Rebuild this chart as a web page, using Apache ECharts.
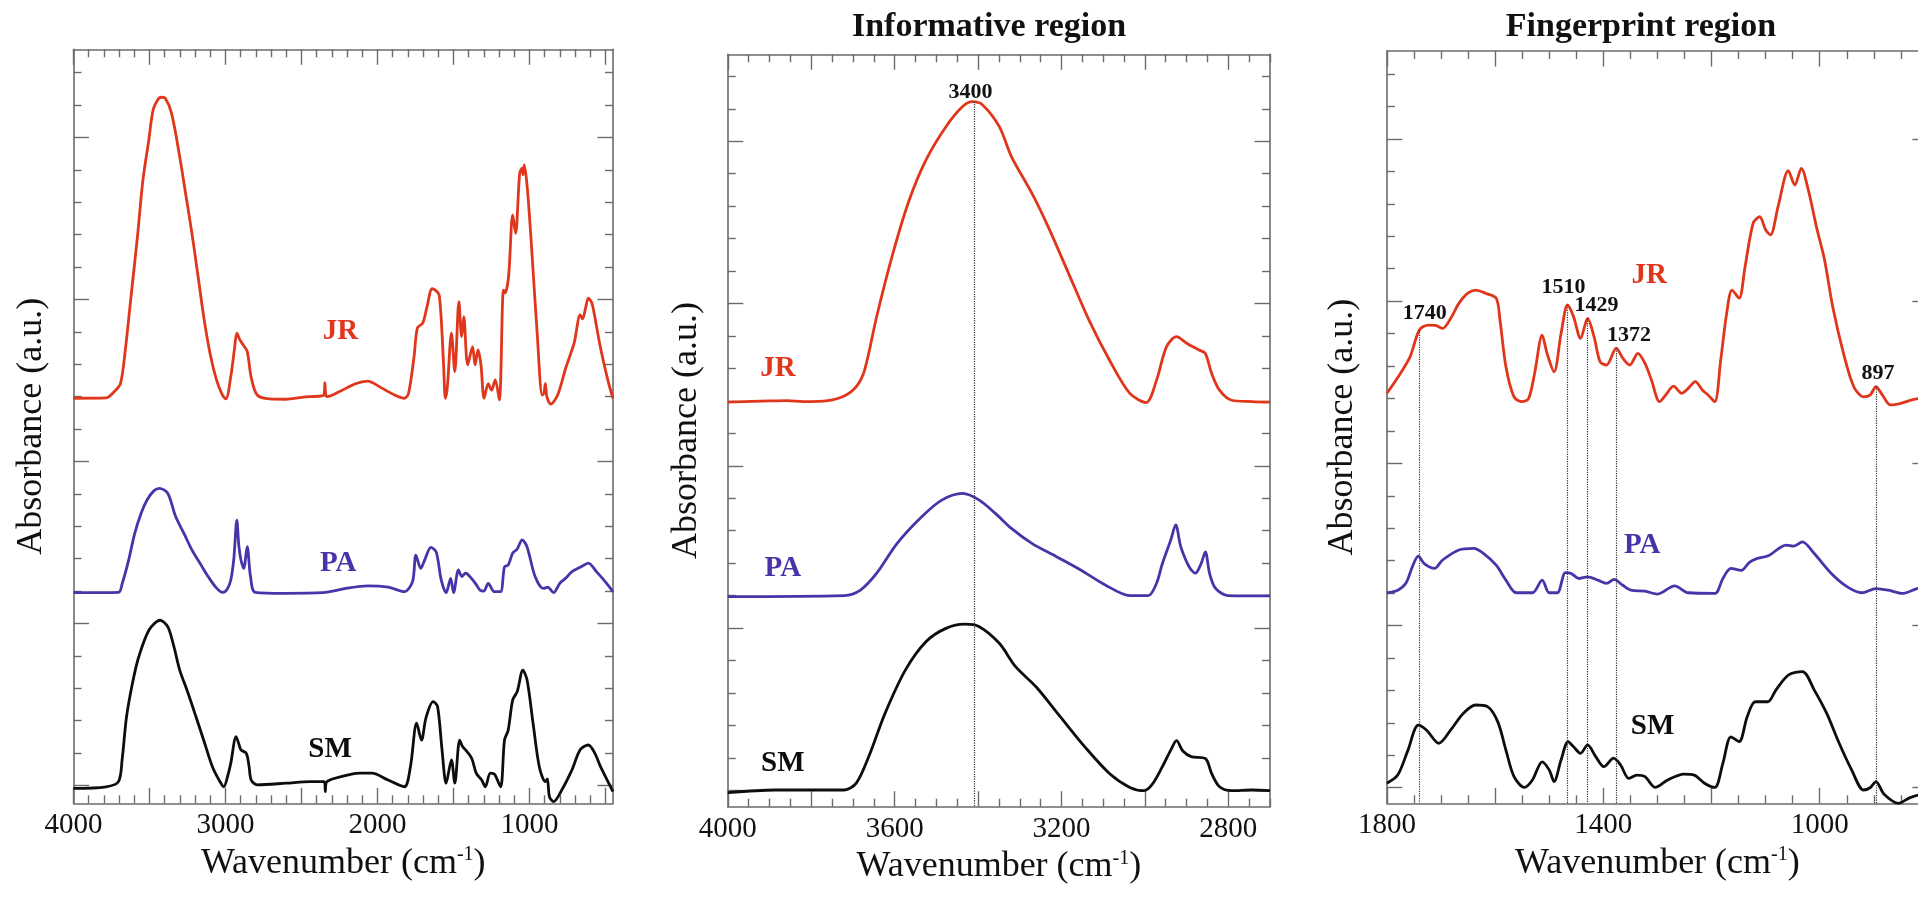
<!DOCTYPE html>
<html><head><meta charset="utf-8">
<script src="https://cdn.jsdelivr.net/npm/echarts@6/dist/echarts.min.js"></script>
<style>html,body{margin:0;padding:0;background:#fff}#c{width:1918px;height:902px}</style>
</head><body><div id="c"></div>
<script>
// ---------------- DATA (wavenumber cm-1, absorbance in arbitrary tick units) ----------------
// Full spectrum panel
const fullJR = [[4000,11.95],[3786,11.96],[3733,12.15],[3691,12.4],[3660,13.4],[3624,14.98],[3580,16.9],[3543,18.69],[3505,19.9],[3476,20.85],[3440,21.2],[3422,21.24],[3395,21.2],[3355,20.75],[3301,19.4],[3260,18.2],[3221,17.05],[3180,15.7],[3140,14.37],[3100,13.3],[3059,12.52],[3020,12.05],[2997,11.93],[2965,12.62],[2940,13.5],[2925,13.96],[2905,13.75],[2884,13.6],[2857,13.4],[2831,12.6],[2791,12.05],[2709,11.93],[2602,11.92],[2495,11.98],[2373,12.02],[2352,12.05],[2346,12.43],[2340,12.05],[2333,12.0],[2252,12.15],[2145,12.4],[2064,12.48],[1984,12.3],[1903,12.09],[1823,11.95],[1796,12.09],[1760,13.2],[1737,14.12],[1702,14.27],[1674,14.77],[1640,15.33],[1610,15.25],[1594,15.14],[1580,14.37],[1565,13.0],[1553,11.95],[1540,12.3],[1513,13.96],[1491,12.77],[1464,14.93],[1446,13.85],[1432,14.47],[1406,12.98],[1374,13.54],[1358,12.98],[1338,13.44],[1319,12.98],[1298,11.95],[1271,12.4],[1249,12.2],[1225,12.52],[1198,11.9],[1171,15.29],[1160,15.2],[1137,15.71],[1110,17.61],[1091,17.04],[1064,18.89],[1048,19.05],[1042,18.85],[1034,19.15],[1015,18.5],[989,16.84],[949,13.96],[916,12.05],[905,12.1],[895,12.4],[885,12.0],[860,11.77],[814,12.05],[760,12.9],[706,13.65],[666,14.52],[650,14.4],[630,14.75],[612,15.04],[590,14.9],[572,14.52],[532,13.5],[478,12.4],[450,11.95]];
const fullPA = [[4000,5.95],[3704,5.96],[3679,6.24],[3640,6.9],[3597,7.78],[3555,8.4],[3516,8.81],[3470,9.1],[3435,9.17],[3380,9.02],[3328,8.3],[3270,7.75],[3221,7.27],[3160,6.8],[3113,6.44],[3060,6.1],[3019,5.96],[2990,6.05],[2965,6.34],[2945,7.0],[2925,8.19],[2912,7.4],[2898,6.96],[2880,6.7],[2857,7.37],[2835,6.44],[2804,5.96],[2602,5.93],[2360,5.95],[2198,6.09],[2064,6.16],[1930,6.12],[1823,5.98],[1769,6.29],[1747,7.11],[1715,6.7],[1690,6.95],[1648,7.35],[1613,7.2],[1580,6.34],[1548,5.95],[1518,6.39],[1499,5.95],[1467,6.65],[1445,6.45],[1420,6.55],[1381,6.39],[1350,6.2],[1325,6.03],[1300,6.0],[1271,6.24],[1230,5.98],[1190,5.98],[1164,6.75],[1140,6.8],[1110,7.17],[1080,7.3],[1048,7.58],[1016,7.37],[962,6.44],[908,6.08],[880,6.12],[841,5.95],[800,6.24],[760,6.4],[720,6.6],[660,6.75],[612,6.86],[559,6.6],[492,6.24],[450,5.98]];
const fullSM = [[4000,-0.09],[3786,-0.04],[3704,0.12],[3680,0.8],[3651,2.12],[3610,3.2],[3570,3.98],[3503,4.8],[3430,5.1],[3380,4.9],[3340,4.3],[3301,3.56],[3250,2.9],[3194,2.12],[3140,1.35],[3086,0.58],[3040,0.15],[3011,-0.04],[2985,0.3],[2965,0.69],[2930,1.51],[2910,1.25],[2898,1.1],[2863,0.99],[2845,0.6],[2831,0.17],[2791,0.02],[2602,0.07],[2441,0.12],[2350,0.12],[2343,-0.19],[2336,0.1],[2198,0.32],[2118,0.38],[2037,0.38],[1930,0.17],[1823,-0.04],[1783,0.58],[1742,1.92],[1710,1.4],[1680,2.1],[1634,2.59],[1605,2.45],[1575,1.1],[1548,0.07],[1513,0.79],[1491,0.07],[1459,1.4],[1440,1.2],[1420,1.1],[1380,0.84],[1350,0.38],[1314,0.17],[1290,-0.04],[1257,0.38],[1230,0.35],[1190,-0.04],[1164,1.4],[1140,1.7],[1110,2.64],[1080,2.9],[1043,3.56],[1015,3.25],[976,1.92],[935,0.58],[895,0.12],[882,0.2],[868,-0.35],[841,-0.5],[787,-0.14],[720,0.48],[666,1.1],[612,1.25],[570,1.0],[532,0.58],[478,0.07],[450,-0.19]];
const fullTickLabels = [4000,3000,2000,1000];
const fullMajorTicks = [4000,3500,3000,2500,2000,1500,1000,500];
const fullTags = [[2244,14.0],[2258,6.86],[2312,1.1]];

// Informative region panel
const infoJR = [[4000,11.96],[3897,12.0],[3858,12.01],[3819,11.98],[3760,12.01],[3721,12.15],[3692,12.44],[3672,12.95],[3643,14.6],[3604,16.55],[3565,18.19],[3525,19.42],[3477,20.45],[3437,21.07],[3413,21.22],[3389,21.12],[3349,20.45],[3320,19.53],[3271,18.4],[3232,17.37],[3183,15.93],[3134,14.49],[3085,13.26],[3036,12.23],[2997,11.95],[2972,12.64],[2948,13.67],[2924,13.98],[2899,13.77],[2870,13.57],[2855,13.46],[2840,12.85],[2821,12.33],[2792,12.02],[2743,11.98],[2700,11.96]];
const infoPA = [[4000,5.97],[3721,6.0],[3682,6.17],[3643,6.69],[3594,7.61],[3535,8.43],[3486,8.95],[3437,9.15],[3398,8.95],[3359,8.54],[3320,8.07],[3271,7.61],[3212,7.2],[3154,6.79],[3095,6.33],[3036,6.0],[2992,6.0],[2972,6.38],[2958,6.99],[2938,7.71],[2926,8.18],[2914,7.51],[2894,6.89],[2879,6.69],[2865,6.99],[2855,7.35],[2845,6.69],[2831,6.23],[2801,6.0],[2700,5.99]];
const infoSM = [[4000,-0.07],[3887,0.01],[3721,0.01],[3692,0.22],[3662,1.04],[3623,2.37],[3574,3.71],[3525,4.58],[3477,4.99],[3432,5.12],[3398,5.05],[3349,4.53],[3310,3.81],[3261,3.19],[3203,2.27],[3144,1.34],[3085,0.52],[3036,0.09],[3002,-0.01],[2982,0.19],[2958,0.73],[2938,1.24],[2924,1.53],[2909,1.21],[2889,1.04],[2855,0.98],[2840,0.52],[2821,0.11],[2792,-0.01],[2743,0.01],[2700,-0.01]];
const infoTickLabels = [4000,3600,3200,2800];
const infoMajorTicks = [4000,3800,3600,3400,3200,3000,2800];
const infoTags = [[3880,13.0],[3868,6.84],[3868,0.83]];
const infoMarkWn = [3410];
const infoMarkTop = [21.22];
const infoMarkText = ['3400'];
const infoMarkLabelAt = [[3418,21.5]];

// Fingerprint region panel
const fingJR = [[1800,12.16],[1779,12.67],[1757,13.29],[1740,14.11],[1723,14.26],[1710,14.25],[1697,14.16],[1682,14.47],[1667,14.93],[1651,15.24],[1636,15.34],[1617,15.24],[1598,15.09],[1591,14.42],[1580,12.98],[1565,12.05],[1550,11.9],[1538,12.0],[1527,12.77],[1513,13.95],[1504,13.39],[1491,12.82],[1478,14.01],[1466,14.88],[1455,14.52],[1442,13.85],[1429,14.47],[1417,13.9],[1406,13.13],[1394,13.03],[1376,13.55],[1364,13.24],[1351,13.03],[1336,13.39],[1323,13.08],[1311,12.57],[1296,11.9],[1285,12.1],[1270,12.38],[1255,12.16],[1243,12.31],[1230,12.52],[1217,12.26],[1206,12.1],[1194,11.9],[1183,13.18],[1172,14.62],[1162,15.34],[1149,15.09],[1138,16.06],[1123,17.4],[1111,17.6],[1100,17.2],[1091,17.04],[1077,17.91],[1058,19.02],[1046,18.58],[1034,19.09],[1021,18.42],[1006,17.29],[991,16.27],[976,14.83],[956,13.39],[937,12.36],[919,12.05],[907,12.1],[896,12.36],[884,12.1],[869,11.8],[850,11.85],[831,11.95],[816,12.0],[800,12.04]];
const fingPA = [[1800,6.01],[1780,6.09],[1765,6.3],[1753,6.81],[1742,7.14],[1731,6.91],[1712,6.76],[1697,7.02],[1667,7.33],[1640,7.38],[1621,7.22],[1598,6.86],[1580,6.4],[1561,6.01],[1531,6.01],[1513,6.4],[1500,6.01],[1485,6.01],[1470,6.63],[1459,6.6],[1445,6.45],[1429,6.5],[1410,6.4],[1394,6.3],[1380,6.42],[1364,6.24],[1349,6.09],[1323,6.06],[1300,5.97],[1268,6.22],[1243,6.01],[1194,5.99],[1179,6.45],[1164,6.76],[1145,6.7],[1130,6.95],[1115,7.07],[1095,7.15],[1062,7.48],[1048,7.45],[1032,7.58],[1010,7.22],[979,6.61],[949,6.19],[922,6.01],[896,6.14],[873,6.09],[847,5.99],[820,6.14],[800,6.19]];
const fingSM = [[1800,0.14],[1780,0.39],[1761,1.16],[1742,1.93],[1727,1.78],[1704,1.37],[1682,1.78],[1659,2.29],[1636,2.55],[1614,2.5],[1595,2.03],[1580,1.16],[1565,0.34],[1546,0.01],[1531,0.24],[1513,0.8],[1500,0.55],[1491,0.19],[1478,0.86],[1465,1.42],[1455,1.26],[1442,1.06],[1429,1.32],[1414,0.96],[1399,0.65],[1381,0.91],[1368,0.7],[1353,0.29],[1338,0.39],[1323,0.34],[1304,0.01],[1281,0.24],[1251,0.42],[1232,0.39],[1213,0.14],[1194,0.01],[1179,0.75],[1164,1.57],[1149,1.42],[1134,2.19],[1119,2.65],[1096,2.65],[1081,3.01],[1058,3.47],[1032,3.58],[1010,3.01],[987,2.29],[964,1.37],[941,0.55],[919,-0.07],[907,0.0],[896,0.19],[881,-0.2],[854,-0.48],[835,-0.32],[816,-0.22],[800,-0.2]];
const fingTickLabels = [1800,1400,1000];
const fingMajorTicks = [1800,1600,1400,1200,1000,800];
const fingTags = [[1315,15.8],[1328,7.48],[1309,1.88]];
const fingMarkWn = [1740,1466,1429,1376,896];
const fingMarkTop = [14.11,14.88,14.47,13.55,12.36];
const fingMarkText = ['1740','1510','1429','1372','897'];
const fingMarkLabelAt = [[1730,14.62],[1473.6,15.43],[1412.6,14.88],[1352.5,13.95],[892.2,12.77]];

const seriesNames = ['JR','PA','SM'];
const yMajorTicks = [0,5,10,15,20];
const panelTitles = ['', 'Informative region', 'Fingerprint region'];

// ---------------- STYLE / LAYOUT ----------------
const FONT = '"Liberation Serif","Times New Roman",serif';
const COLORS = {JR:'#E0361C', PA:'#4A33A8', SM:'#0d0d0d'};
const FRAME = '#6b6b6b';

function minorList(from, to, step, majors){
  const out=[];
  for(let v=from; v>=to; v-=step){ if(!majors.includes(v)) out.push(v); }
  return out;
}
const yMinorTicks = [];
for(let v=1; v<=22; v++){ if(!yMajorTicks.includes(v)) yMinorTicks.push(v); }

const panels = [
  {grid:{left:73.5, top:49.3, width:539.5, height:754}, x:[450,4000], y:[-0.55,22.72],
   xMajor:fullMajorTicks, xMinor:minorList(4000,450,100,fullMajorTicks), xLabels:fullTickLabels,
   yNameGap:24, lines:[fullJR,fullPA,fullSM], tags:fullTags, marks:null, titleX:null},
  {grid:{left:727.8, top:54.3, width:542.2, height:752.4}, x:[2700,4000], y:[-0.505,22.68],
   xMajor:infoMajorTicks, xMinor:minorList(4000,2700,50,infoMajorTicks), xLabels:infoTickLabels,
   yNameGap:23, lines:[infoJR,infoPA,infoSM], tags:infoTags,
   marks:{wn:infoMarkWn, top:infoMarkTop, text:infoMarkText, at:infoMarkLabelAt}, titleX:989},
  {grid:{left:1386.9, top:51, width:541, height:752.3}, x:[800,1800], y:[-0.48,22.71],
   xMajor:fingMajorTicks, xMinor:minorList(1800,800,50,fingMajorTicks), xLabels:fingTickLabels,
   yNameGap:26, lines:[fingJR,fingPA,fingSM], tags:fingTags,
   marks:{wn:fingMarkWn, top:fingMarkTop, text:fingMarkText, at:fingMarkLabelAt}, titleX:1641}
];

const grid=[], xAxis=[], yAxis=[], series=[], graphic=[];
const plainLabel = {textBorderWidth:0, textShadowBlur:0, opacity:1};
panels.forEach((p,i)=>{
  grid.push(Object.assign({containLabel:false, outerBoundsMode:'none'}, p.grid));
  const ax = (dim, pos, ticks, len, showLine, labels, name, nameGap) => {
    const a = {
      type:'value', gridIndex:i, position:pos,
      min: dim==='x'? p.x[0] : p.y[0], max: dim==='x'? p.x[1] : p.y[1],
      inverse: dim==='x',
      splitLine:{show:false},
      axisLine:{show:showLine, onZero:false, lineStyle:{color:FRAME, width:1.6}},
      axisTick:{show:true, inside:true, length:len, customValues:ticks, lineStyle:{color:FRAME, width:1.4}},
      axisLabel: labels ? {show:true, customValues:labels, margin:8, fontSize:29, fontFamily:FONT, color:'#111', formatter:(v)=>String(v)} : {show:false},
      axisPointer:{show:false}
    };
    if(name){
      a.name = name; a.nameLocation='middle'; a.nameGap=nameGap;
      a.nameTextStyle = {fontSize:36, fontFamily:FONT, color:'#111',
        rich:{sup:{fontSize:20, fontFamily:FONT, color:'#111', verticalAlign:'top'}}};
    }
    return a;
  };
  xAxis.push(ax('x','bottom',p.xMajor,15.5,true,p.xLabels,'Wavenumber (cm{sup|-1})',38));
  xAxis.push(ax('x','bottom',p.xMinor,8,false,null));
  xAxis.push(ax('x','top',p.xMajor,15.5,true,null));
  xAxis.push(ax('x','top',p.xMinor,8,false,null));
  yAxis.push(ax('y','left',yMajorTicks,15.5,true,null,'Absorbance (a.u.)',p.yNameGap));
  yAxis.push(ax('y','left',yMinorTicks,8,false,null));
  yAxis.push(ax('y','right',yMajorTicks,15.5,true,null));
  yAxis.push(ax('y','right',yMinorTicks,8,false,null));

  p.lines.forEach((d,j)=>{
    series.push({type:'line', name:seriesNames[j]+i, xAxisIndex:4*i, yAxisIndex:4*i, data:d,
      symbol:'none', showSymbol:false, smooth:0.3, clip:true,
      lineStyle:{color:COLORS[seriesNames[j]], width:2.8}, z:3, silent:true});
  });
  series.push({type:'scatter', xAxisIndex:4*i, yAxisIndex:4*i, symbolSize:1, silent:true,
    itemStyle:{color:'rgba(0,0,0,0)', opacity:1},
    data: p.tags.map((t,j)=>({value:t, name:seriesNames[j],
      label:{color:COLORS[seriesNames[j]]}})),
    label:Object.assign({show:true, position:'inside', formatter:'{b}', fontFamily:FONT, fontWeight:'bold', fontSize:29}, plainLabel), z:5});
  if(p.marks){
    series.push({type:'scatter', xAxisIndex:4*i, yAxisIndex:4*i, symbolSize:1, silent:true,
      itemStyle:{color:'rgba(0,0,0,0)', opacity:1},
      data: p.marks.at.map((t,k)=>({value:t, name:p.marks.text[k]})),
      label:Object.assign({show:true, position:'inside', formatter:'{b}', fontFamily:FONT, fontWeight:'bold', fontSize:22, color:'#111'}, plainLabel),
      markLine:{silent:true, symbol:['none','none'], animation:false,
        label:{show:false},
        lineStyle:{type:'dotted', color:'#333', width:1.2, opacity:1},
        data: p.marks.wn.map((w,k)=>[{coord:[w,p.marks.top[k]]},{coord:[w,p.y[0]]}])},
      z:4});
  }
  if(p.titleX){
    graphic.push({type:'text', x:p.titleX, y:27, silent:true,
      style:{text:panelTitles[i], fontSize:34, fontWeight:'bold', fontFamily:FONT, fill:'#111',
        textAlign:'center', textVerticalAlign:'middle', align:'center', verticalAlign:'middle'}});
  }
});

const chart = echarts.init(document.getElementById('c'), null, {renderer:'canvas'});
chart.setOption({animation:false, backgroundColor:'#ffffff', grid, xAxis, yAxis, series, graphic});
</script></body></html>
